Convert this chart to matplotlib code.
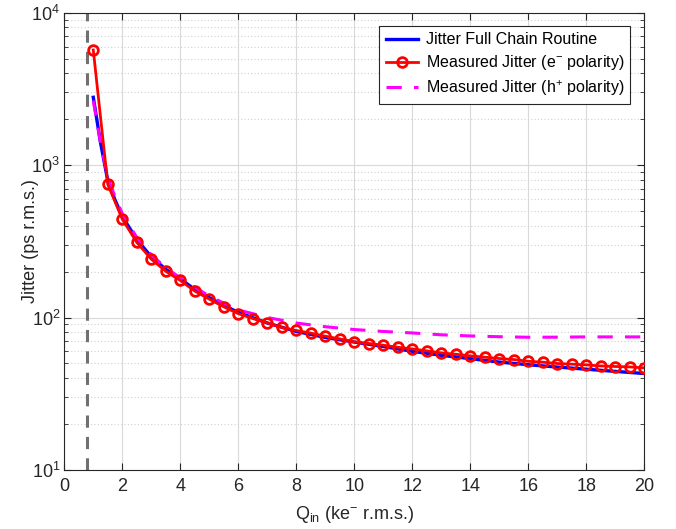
import matplotlib
matplotlib.use("Agg")
import matplotlib.pyplot as plt
from matplotlib.ticker import LogLocator, MultipleLocator, NullFormatter

plt.rcParams["font.family"] = ["Liberation Sans", "DejaVu Sans"]
plt.rcParams["mathtext.fontset"] = "custom"
plt.rcParams["mathtext.rm"] = "Liberation Sans"
plt.rcParams["mathtext.it"] = "Liberation Sans:italic"
plt.rcParams["mathtext.default"] = "regular"

# Simulated jitter from the full chain routine
sim_q = [1.0, 1.25, 1.5, 1.75, 2.0, 2.5, 3.0, 3.5, 4.0, 4.5, 5.0, 5.5, 6.0,
         7.0, 8.0, 9.0, 10.0, 11.0, 12.0, 13.0, 14.0, 15.0, 16.0, 17.0,
         18.0, 19.0, 20.0]
sim_jitter = [2785, 1400, 790, 590, 460, 325, 250, 207, 179, 153, 135, 120,
              108, 92, 81, 74, 69, 64.5, 60, 56.5, 53.7, 51, 49, 47.3, 45.8,
              44.3, 42.9]

# Measured jitter, electron polarity
meas_e_q = [1.0, 1.5, 2.0, 2.5, 3.0, 3.5, 4.0, 4.5, 5.0, 5.5, 6.0, 6.5, 7.0,
            7.5, 8.0, 8.5, 9.0, 9.5, 10.0, 10.5, 11.0, 11.5, 12.0, 12.5,
            13.0, 13.5, 14.0, 14.5, 15.0, 15.5, 16.0, 16.5, 17.0, 17.5,
            18.0, 18.5, 19.0, 19.5, 20.0]
meas_e_jitter = [5690, 747, 442, 311, 241.5, 201, 175, 149, 132, 117.5, 106,
                 98.5, 92.3, 86, 82.2, 79, 75.4, 72.4, 69.2, 67.5, 65.8,
                 63.8, 62.2, 60.4, 58.6, 57.4, 56, 54.9, 53.8, 53, 51.6,
                 50.9, 49.9, 49.4, 48.9, 48.1, 47.7, 47.4, 46.7]

# Measured jitter, hole polarity
meas_h_q = [1.0, 1.25, 1.5, 1.75, 2.0, 2.5, 3.0, 3.5, 4.0, 5.0, 6.0, 6.5,
            7.0, 8.0, 9.0, 10.0, 11.0, 12.0, 13.0, 14.0, 15.0, 16.0, 17.0,
            18.0, 19.0, 20.0]
meas_h_jitter = [2650, 1400, 830, 620, 480, 335, 258, 212, 182, 138, 112,
                 106, 100, 92, 87, 83.4, 81, 79.2, 77, 75.7, 74.8, 74.2,
                 74.3, 74.6, 74.6, 74.6]

threshold_q = 0.8

fig = plt.figure(figsize=(6.76, 5.29), dpi=100)
ax = fig.add_axes([0.0951, 0.1117, 0.8580, 0.8643])

axis_color = "#262626"

ax.axvline(threshold_q, color="#707070", linestyle=(0, (4, 3)), linewidth=2.2,
           zorder=2)
ax.plot(sim_q, sim_jitter, color="#0000ff", linewidth=2.4,
        label="Jitter Full Chain Routine", zorder=3)
ax.plot(meas_e_q, meas_e_jitter, color="#ff0000", linewidth=2.0,
        marker="o", markersize=7, markerfacecolor="none",
        markeredgewidth=2.0, label=r"Measured Jitter (e$^{-}$ polarity)",
        zorder=4)
ax.plot(meas_h_q, meas_h_jitter, color="#ff00ff", linewidth=2.2,
        linestyle=(0, (5, 4)), label=r"Measured Jitter (h$^{+}$ polarity)",
        zorder=3)

ax.set_yscale("log")
ax.set_xlim(0, 20)
ax.set_ylim(10, 1e4)
ax.xaxis.set_major_locator(MultipleLocator(2))
ax.yaxis.set_major_locator(LogLocator(base=10, numticks=10))
ax.yaxis.set_minor_locator(LogLocator(base=10, subs=range(2, 10), numticks=20))
ax.yaxis.set_minor_formatter(NullFormatter())

ax.grid(True, which="major", color="#d9d9d9", linewidth=0.8)
ax.grid(True, which="minor", axis="y", color="#d0d0d0", linewidth=0.8,
        linestyle=(0, (1, 2)))
ax.set_axisbelow(True)

for side in ax.spines.values():
    side.set_color(axis_color)
    side.set_linewidth(0.8)
ax.tick_params(which="both", direction="in", top=True, right=True,
               colors=axis_color, labelsize=13, labelcolor="#262626")
ax.tick_params(which="major", length=5)
ax.tick_params(axis="x", which="major", pad=6)
ax.tick_params(axis="y", which="major", pad=3)
ax.tick_params(which="minor", length=3)

ax.set_xlabel(r"Q$_{in}$ (ke$^{-}$ r.m.s.)", fontsize=13, color="#262626",
              labelpad=6)
ax.set_ylabel("Jitter (ps r.m.s.)", fontsize=13, color="#262626")
ax.yaxis.set_label_coords(-0.044, 0.5)

leg = ax.legend(loc="upper right", bbox_to_anchor=(0.976, 0.971),
                borderaxespad=0, fontsize=11.5, frameon=True, fancybox=False,
                edgecolor=axis_color, framealpha=1, handlelength=2.0,
                borderpad=0.4, labelspacing=0.38, handletextpad=0.5)
leg.get_frame().set_linewidth(0.8)

fig.savefig("out.png", dpi=100)
